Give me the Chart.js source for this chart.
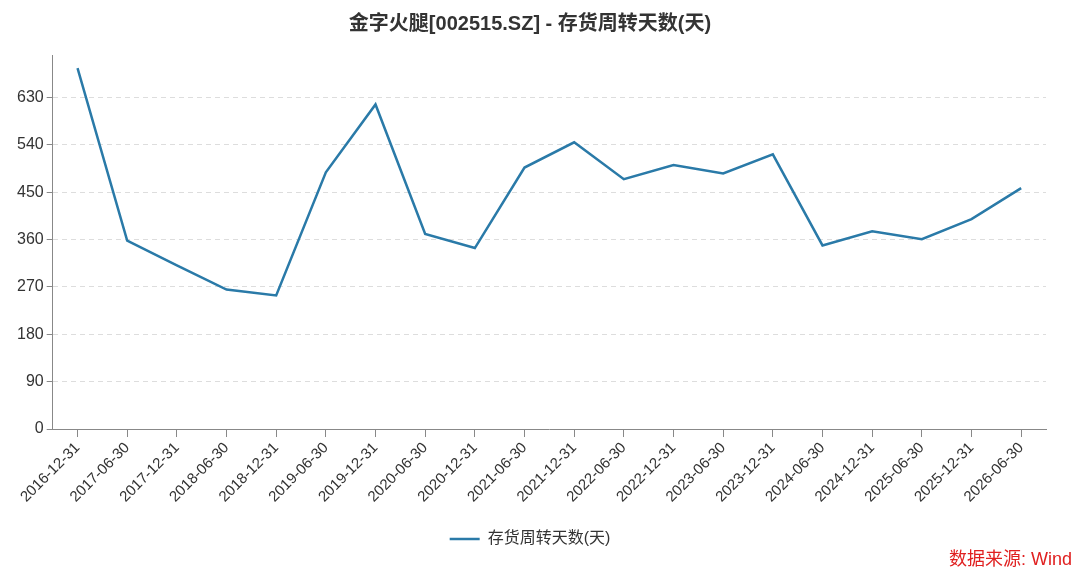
<!DOCTYPE html>
<html>
<head>
<meta charset="utf-8">
<script src="https://cdn.jsdelivr.net/npm/chart.js@4"></script>
<style>
  html, body { margin: 0; padding: 0; background: #fff; }
  #wrap { position: relative; width: 1080px; height: 572px; }
  #source {
    position: absolute; right: 8px; bottom: 2px;
    color: #e02020; font: 18px "Liberation Sans", "Noto Sans CJK SC", sans-serif;
  }
</style>
</head>
<body>
<div id="wrap">
  <canvas id="line-chart" width="1080" height="572"></canvas>
  <div id="source">数据来源: Wind</div>
</div>
<script>
// 存货周转天数 data
const dates = ["2016-12-31","2017-06-30","2017-12-31","2018-06-30","2018-12-31",
  "2019-06-30","2019-12-31","2020-06-30","2020-12-31","2021-06-30",
  "2021-12-31","2022-06-30","2022-12-31","2023-06-30","2023-12-31",
  "2024-06-30","2024-12-31","2025-06-30","2025-12-31","2026-06-30"];
const turnoverDays = [686, 358, 311, 265, 254, 488, 617, 371, 344, 497,
  545, 475, 502, 486, 522, 349, 376, 361, 399, 458];
const yTicks = [0, 90, 180, 270, 360, 450, 540, 630];

const font = '"Liberation Sans", "Noto Sans CJK SC", sans-serif';

new Chart(document.getElementById("line-chart"), {
  type: 'line',
  data: {
    labels: dates,
    datasets: [{
      label: "存货周转天数(天)",
      data: turnoverDays,
      borderColor: "#2a7aa8",
      backgroundColor: "#2a7aa8",
      borderWidth: 2.5,
      pointRadius: 0,
      tension: 0,
      fill: false
    }]
  },
  options: {
    responsive: false,
    animation: false,
    layout: { padding: { left: 14, right: 34, top: 0, bottom: 15 } },
    plugins: {
      title: {
        display: true,
        text: '金字火腿[002515.SZ] - 存货周转天数(天)',
        color: '#333',
        font: { family: font, size: 20, weight: 'bold' },
        padding: { top: 12, bottom: 19 }
      },
      legend: {
        position: 'bottom',
        labels: {
          usePointStyle: true,
          pointStyle: 'line',
          pointStyleWidth: 30,
          color: '#333',
          font: { family: font, size: 16 },
          padding: 23
        }
      },
      tooltip: { enabled: false }
    },
    scales: {
      x: {
        offset: true,
        grid: { drawOnChartArea: false, drawTicks: true, tickLength: 8, tickColor: '#888', offset: false },
        border: { color: '#888', width: 1 },
        ticks: {
          autoSkip: false, minRotation: 45, maxRotation: 45,
          color: '#333', font: { family: font, size: 15 }, padding: 2
        }
      },
      y: {
        min: 0,
        max: 711,
        afterBuildTicks: (axis) => { axis.ticks = yTicks.map(v => ({ value: v })); },
        grid: {
          color: (ctx) => ctx.tick && ctx.tick.value === 0 ? 'rgba(0,0,0,0)' : '#dddddd',
          tickBorderDash: [],
          tickColor: '#888',
          tickLength: 6
        },
        border: { color: '#888', width: 1, dash: [5, 4] },
        ticks: { color: '#333', font: { family: font, size: 16 }, padding: 3 }
      }
    }
  }
});
</script>
</body>
</html>
